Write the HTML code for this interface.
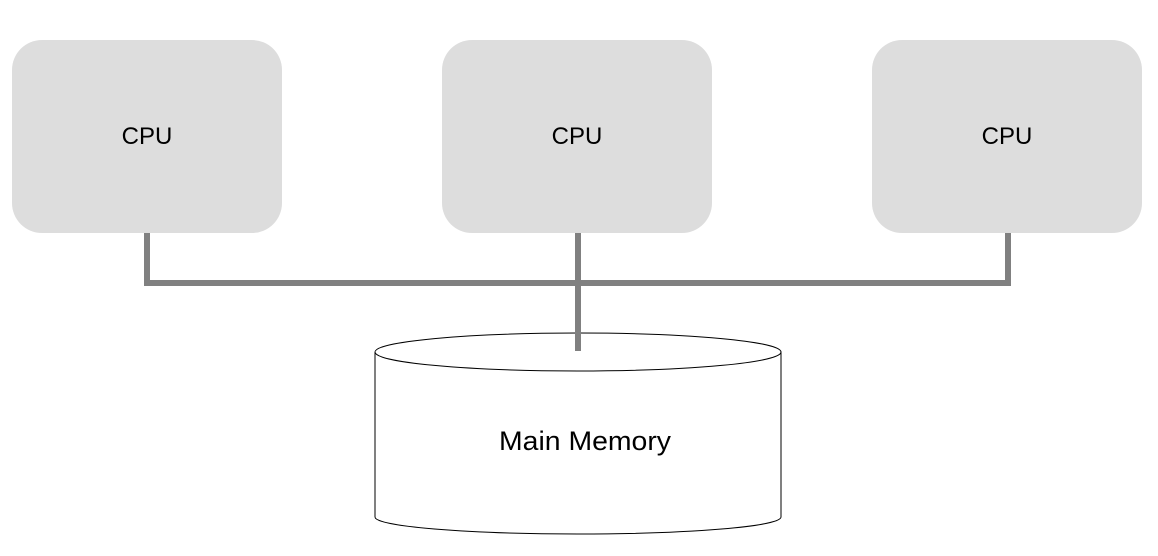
<!DOCTYPE html>
<html><head><style>
html,body{margin:0;padding:0;background:#fff;width:1158px;height:556px;overflow:hidden}
svg text{font-family:"Liberation Sans",sans-serif}
</style></head><body>
<svg width="1158" height="556" viewBox="0 0 1158 556" xmlns="http://www.w3.org/2000/svg">
<rect x="12" y="40" width="270" height="193" rx="30" fill="#dddddd"/>
<rect x="442" y="40" width="270" height="193" rx="30" fill="#dddddd"/>
<rect x="872" y="40" width="270" height="193" rx="30" fill="#dddddd"/>
<text x="147" y="144" font-size="24" text-anchor="middle" fill="#000">CPU</text>
<text x="577" y="144" font-size="24" text-anchor="middle" fill="#000">CPU</text>
<text x="1007" y="144" font-size="24" text-anchor="middle" fill="#000">CPU</text>
<path d="M375,352 L375,517 A203,17 0 0 0 781,517 L781,352" fill="#fff" stroke="#000" stroke-width="1"/>
<ellipse cx="578" cy="352" rx="203" ry="19" fill="#fff" stroke="#000" stroke-width="1"/>
<g stroke="#808080" stroke-width="6" fill="none">
<path d="M147,233 L147,283 L1008,283 L1008,233"/>
<path d="M578,233 L578,351"/>
</g>
<text x="585" y="450" font-size="27" text-anchor="middle" fill="#000" textLength="172" lengthAdjust="spacingAndGlyphs">Main Memory</text>
</svg>
</body></html>
